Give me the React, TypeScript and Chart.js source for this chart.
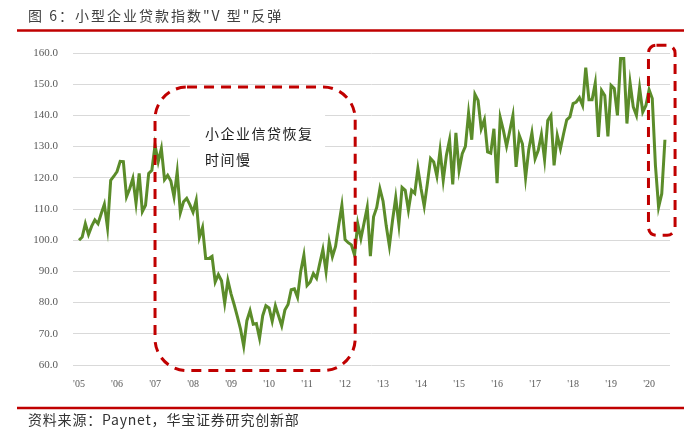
import React, { useEffect, useRef } from "react";
import { Chart, registerables } from "chart.js";

Chart.register(...registerables);

// Monthly index values, Jan 2005 – Jun 2020
const values2005 = [100.0, 101.0, 105.3, 101.8, 104.5, 106.5, 105.3, 108.5, 111.5, 104.0, 119.2, 120.5];
const values2006 = [122.0, 125.3, 125.2, 113.9, 116.5, 119.8, 111.8, 121.4, 109.2, 111.2, 121.4, 122.4];
const values2007 = [130.4, 125.1, 129.4, 119.4, 120.8, 119.0, 113.9, 121.9, 108.8, 112.3, 113.4, 111.4];
const values2008 = [109.0, 112.8, 100.9, 104.1, 94.1, 94.1, 94.8, 86.6, 89.0, 87.0, 79.8, 87.1];
const values2009 = [82.8, 79.3, 75.5, 71.5, 66.1, 74.2, 77.4, 73.1, 73.3, 68.6, 75.8, 79.0];
const values2010 = [78.3, 74.0, 79.0, 75.8, 72.6, 77.6, 79.4, 84.1, 84.4, 81.7, 90.0, 95.2];
const values2011 = [85.5, 86.6, 89.3, 87.8, 92.5, 97.0, 89.9, 99.5, 94.7, 98.0, 104.8, 111.2];
const values2012 = [100.2, 99.2, 98.5, 95.2, 105.3, 100.5, 105.5, 110.5, 94.9, 107.5, 110.5, 116.5];
const values2013 = [112.5, 104.6, 98.1, 106.4, 113.7, 105.0, 116.9, 116.0, 109.6, 116.0, 115.0, 123.0];
const values2014 = [116.5, 110.9, 118.2, 126.2, 125.1, 120.5, 128.8, 119.2, 127.2, 132.2, 117.9, 134.4];
const values2015 = [122.4, 127.7, 130.1, 140.8, 132.2, 146.8, 144.8, 135.7, 138.6, 128.3, 127.9, 135.7];
const values2016 = [118.3, 139.3, 135.2, 130.1, 135.0, 140.0, 123.5, 133.6, 130.9, 120.0, 129.0, 134.4];
const values2017 = [126.1, 128.8, 133.9, 125.8, 138.4, 140.0, 124.0, 133.6, 129.3, 134.1, 138.6, 139.5];
const values2018 = [143.8, 144.3, 145.7, 143.2, 155.3, 145.0, 145.0, 150.4, 133.1, 148.0, 146.4, 133.3];
const values2019 = [149.6, 148.6, 140.0, 158.2, 158.2, 137.4, 150.4, 142.7, 140.0, 148.8, 141.1, 143.2];
const values2020 = [148.2, 145.4, 124.0, 110.6, 114.9, 132.2];

const values = [
  ...values2005, ...values2006, ...values2007, ...values2008, ...values2009, ...values2010,
  ...values2011, ...values2012, ...values2013, ...values2014, ...values2015, ...values2016,
  ...values2017, ...values2018, ...values2019, ...values2020,
];

const yearLabels = ["'05", "'06", "'07", "'08", "'09", "'10", "'11", "'12", "'13", "'14", "'15", "'16", "'17", "'18", "'19", "'20"];

const TITLE = "图 6：小型企业贷款指数\"V 型\"反弹";
const SOURCE = "资料来源：Paynet，华宝证券研究创新部";
const NOTE_LINES = ["小企业信贷恢复", "时间慢"];

const RED = "#C00000";
const GREEN = "#5B8C2A";

function roundRectPath(ctx: CanvasRenderingContext2D, x: number, y: number, w: number, h: number, r: number) {
  ctx.beginPath();
  ctx.moveTo(x + r, y);
  ctx.lineTo(x + w - r, y);
  ctx.arcTo(x + w, y, x + w, y + r, r);
  ctx.lineTo(x + w, y + h - r);
  ctx.arcTo(x + w, y + h, x + w - r, y + h, r);
  ctx.lineTo(x + r, y + h);
  ctx.arcTo(x, y + h, x, y + h - r, r);
  ctx.lineTo(x, y + r);
  ctx.arcTo(x, y, x + r, y, r);
  ctx.closePath();
}

const decorPlugin = {
  id: "decor",
  beforeDatasetsDraw(chart: any) {
    const { ctx, scales } = chart;
    const xs = scales.x, ys = scales.y;
    // white backing behind the note text (hides gridlines)
    const x1 = xs.getPixelForValue(35), x2 = xs.getPixelForValue(77.7);
    const y1 = ys.getPixelForValue(143.5), y2 = ys.getPixelForValue(124);
    ctx.save();
    ctx.fillStyle = "#ffffff";
    ctx.fillRect(x1, y1, x2 - x1, y2 - y1);
    ctx.restore();
  },
  afterDraw(chart: any) {
    const { ctx, scales } = chart;
    const xs = scales.x, ys = scales.y;
    ctx.save();
    // dashed rounded rectangles
    ctx.strokeStyle = RED;
    ctx.lineWidth = 3;
    ctx.setLineDash([10, 7]);
    {
      const x1 = xs.getPixelForValue(24), x2 = xs.getPixelForValue(87.2);
      const y1 = ys.getPixelForValue(149.1), y2 = ys.getPixelForValue(58.2);
      roundRectPath(ctx, x1, y1, x2 - x1, y2 - y1, 32);
      ctx.stroke();
    }
    {
      const x1 = xs.getPixelForValue(179.8), x2 = xs.getPixelForValue(188.2);
      const y1 = ys.getPixelForValue(162.5), y2 = ys.getPixelForValue(101.6);
      roundRectPath(ctx, x1, y1, x2 - x1, y2 - y1, 8);
      ctx.stroke();
    }
    ctx.setLineDash([]);

    // note text
    ctx.fillStyle = "#1a1a1a";
    ctx.font = "14px 'Noto Sans CJK SC'";
    (ctx as any).letterSpacing = "1.5px";
    ctx.textAlign = "left";
    ctx.textBaseline = "middle";
    ctx.fillText(NOTE_LINES[0], xs.getPixelForValue(39.8), ys.getPixelForValue(134.2));
    ctx.fillText(NOTE_LINES[1], xs.getPixelForValue(39.8), ys.getPixelForValue(125.9));

    // title
    ctx.fillStyle = "#404040";
    ctx.font = "14px 'Noto Sans CJK SC'";
    (ctx as any).letterSpacing = "2px";
    ctx.fillText(TITLE, 28, 16);

    // source
    ctx.fillStyle = "#333333";
    ctx.font = "14px 'Noto Sans CJK SC'";
    (ctx as any).letterSpacing = "0.8px";
    ctx.fillText(SOURCE, 28, 420);
    (ctx as any).letterSpacing = "0px";

    // red rules
    ctx.strokeStyle = RED;
    ctx.lineWidth = 2.5;
    ctx.beginPath();
    ctx.moveTo(17, 30.5);
    ctx.lineTo(684, 30.5);
    ctx.moveTo(17, 408);
    ctx.lineTo(684, 408);
    ctx.stroke();
    ctx.restore();
  },
};

export default function App() {
  const ref = useRef<HTMLCanvasElement | null>(null);
  useEffect(() => {
    if (!ref.current) return;
    const chart = new Chart(ref.current, {
      type: "line",
      data: {
        datasets: [
          {
            data: values.map((v, i) => ({ x: i, y: v })),
            borderColor: GREEN,
            borderWidth: 3,
            pointRadius: 0,
            tension: 0,
            fill: false,
          },
        ],
      },
      options: {
        animation: false,
        responsive: false,
        devicePixelRatio: 1,
        layout: { padding: { left: 0, right: 30, top: 53, bottom: 49 } },
        plugins: { legend: { display: false }, tooltip: { enabled: false }, title: { display: false } },
        scales: {
          x: {
            type: "linear",
            min: -1.9,
            max: 186.6,
            afterBuildTicks: (scale: any) => {
              scale.ticks = yearLabels.map((_, k) => ({ value: k * 12 }));
            },
            afterFit: (scale: any) => {
              scale.height = 24;
            },
            ticks: {
              autoSkip: false,
              maxRotation: 0,
              padding: 5,
              color: "#595959",
              font: { family: "'Liberation Serif'", size: 10 },
              callback: (v: any) => yearLabels[Math.round(Number(v) / 12)] ?? "",
            },
            grid: { display: false },
            border: { display: false },
          },
          y: {
            min: 60,
            max: 160,
            afterFit: (scale: any) => {
              scale.width = 73;
            },
            ticks: {
              stepSize: 10,
              padding: 15,
              color: "#595959",
              font: { family: "'Liberation Serif'", size: 11 },
              callback: (v: any) => Number(v).toFixed(1),
            },
            grid: { color: "#d9d9d9", lineWidth: 1, drawTicks: false },
            border: { display: false },
          },
        },
      },
      plugins: [decorPlugin],
    });
    return () => chart.destroy();
  }, []);
  return (
    <div style={{ position: "fixed", left: 0, top: 0, width: 700, height: 438, background: "#fff" }}>
      <canvas ref={ref} width={700} height={438} style={{ width: 700, height: 438 }} />
    </div>
  );
}
